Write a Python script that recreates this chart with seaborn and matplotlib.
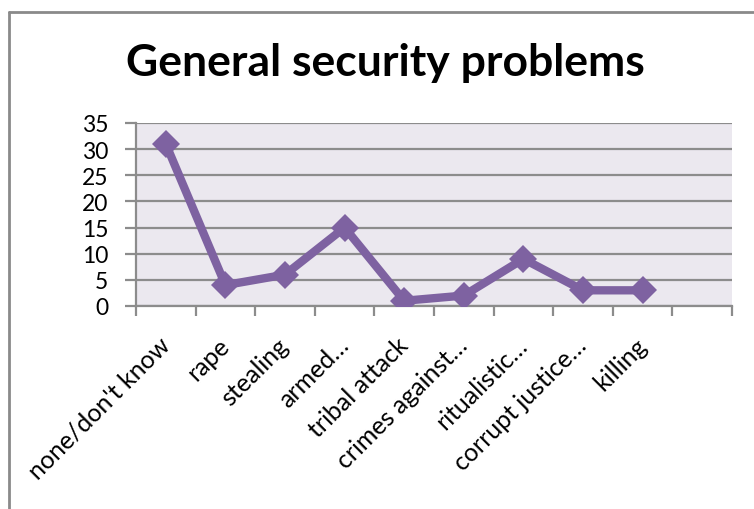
import matplotlib
matplotlib.use("Agg")
import matplotlib.pyplot as plt
from matplotlib.lines import Line2D
import matplotlib.transforms as mtransforms
import numpy as np
import pandas as pd
import seaborn as sns

categories = [
    "none/don't know", "rape", "stealing", "armed\u2026", "tribal attack",
    "crimes against\u2026", "ritualistic\u2026", "corrupt justice\u2026", "killing",
]
counts = [31, 4, 6, 15, 1, 2, 9, 3, 3]
y_ticks = [0, 5, 10, 15, 20, 25, 30, 35]
title = "General security problems"

line_color = "#7E62A1"
grid_color = "#8C8C8C"
plot_bg = "#EBE8EF"

sns.set_theme(style="white")
plt.rcParams["font.family"] = ["Lato", "DejaVu Sans"]

df = pd.DataFrame({"category": categories, "count": counts})

fig = plt.figure(figsize=(7.54, 5.10), dpi=100)
ax = fig.add_axes([136 / 754, 1 - 307 / 510, (732 - 136) / 754, (307 - 124) / 510])
ax.set_facecolor(plot_bg)

sns.lineplot(
    data=df, x="category", y="count", ax=ax, sort=False,
    color=line_color, linewidth=6, marker="D", markersize=14,
    markeredgewidth=0, zorder=5,
)
ax.set_xlabel("")
ax.set_ylabel("")

n_slots = len(categories) + 1
ax.set_xlim(-0.5, n_slots - 0.5)
ax.set_ylim(0, 35)

# horizontal gridlines
ax.set_yticks(y_ticks)
ax.yaxis.grid(True, color=grid_color, linewidth=1.6)
ax.xaxis.grid(False)
ax.set_axisbelow(True)

# category boundary tick marks
ax.set_xticks(np.arange(-0.5, n_slots, 1.0))
ax.set_xticklabels([])

# rotated category labels below each category centre
label_tf = mtransforms.blended_transform_factory(ax.transData, ax.transAxes)
label_tf = label_tf + mtransforms.ScaledTranslation(0 / 100, -35 / 100,
                                                    fig.dpi_scale_trans)
for i, name in enumerate(categories):
    ax.text(i, 0, name, transform=label_tf, rotation=45, ha="right",
            va="center", rotation_mode="anchor", fontsize=18, color="black")

ax.tick_params(axis="x", which="major", length=7, width=1.6, color=grid_color,
               direction="out", bottom=True)
ax.tick_params(axis="y", length=8, width=1.6, color=grid_color, direction="out",
               left=True, labelsize=16.5, pad=12, labelcolor="black")

for side in ["top", "right"]:
    ax.spines[side].set_visible(False)
for side in ["left", "bottom"]:
    ax.spines[side].set_color(grid_color)
    ax.spines[side].set_linewidth(1.6)

fig.text(385 / 754, 1 - 63 / 510, title, ha="center", va="center",
         fontsize=32, fontweight="bold", color="black")

# chart frame
fig.add_artist(Line2D([9 / 754, 9 / 754], [0, 1 - 13 / 510],
                      transform=fig.transFigure, color="#8A8A8A", linewidth=2))
fig.add_artist(Line2D([9 / 754, 1], [1 - 13 / 510, 1 - 13 / 510],
                      transform=fig.transFigure, color="#8A8A8A", linewidth=2))

fig.savefig("out.png", dpi=100, facecolor="white")
